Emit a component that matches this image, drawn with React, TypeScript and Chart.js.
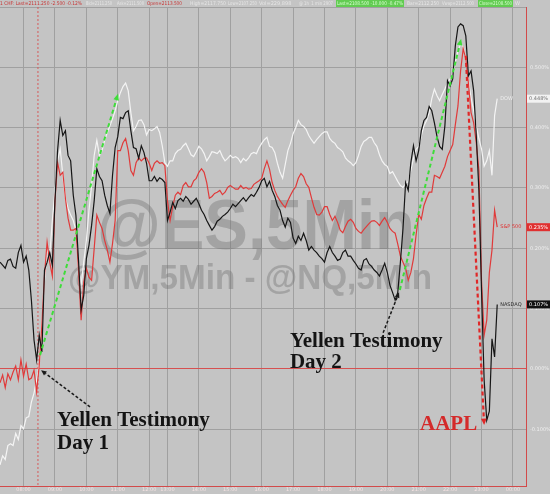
import React, { useEffect, useRef } from "react";
import { Chart, registerables } from "chart.js";

Chart.register(...registerables);

// 5-minute bars, % change
const nasdaq: number[] = [
  0.177, 0.172, 0.167, 0.180, 0.182, 0.170, 0.167, 0.193, 0.205, 0.177,
  0.187, 0.164, 0.114, 0.048, 0.015, 0.056, 0.028, 0.164, 0.177, 0.193,
  0.172, 0.279, 0.362, 0.412, 0.387, 0.395, 0.354, 0.345, 0.288, 0.255,
  0.180, 0.098, 0.122, 0.183, 0.205, 0.238, 0.279, 0.332, 0.319, 0.312,
  0.288, 0.271, 0.258, 0.321, 0.367, 0.385, 0.417, 0.415, 0.425, 0.428,
  0.395, 0.367, 0.365, 0.349, 0.370, 0.359, 0.341, 0.312, 0.312, 0.319,
  0.311, 0.317, 0.314, 0.309, 0.246, 0.260, 0.276, 0.266, 0.279, 0.283,
  0.278, 0.286, 0.281, 0.273, 0.278, 0.283, 0.274, 0.263, 0.256, 0.246,
  0.238, 0.230, 0.236, 0.245, 0.248, 0.253, 0.256, 0.260, 0.266, 0.273,
  0.269, 0.274, 0.279, 0.284, 0.278, 0.284, 0.289, 0.286, 0.293, 0.301,
  0.312, 0.316, 0.302, 0.311, 0.296, 0.286, 0.271, 0.263, 0.246, 0.235,
  0.250, 0.243, 0.217, 0.208, 0.220, 0.213, 0.225, 0.213, 0.197, 0.203,
  0.197, 0.193, 0.187, 0.183, 0.177, 0.193, 0.203, 0.193, 0.187, 0.180,
  0.182, 0.193, 0.197, 0.187, 0.187, 0.180, 0.174, 0.167, 0.164, 0.180,
  0.183, 0.174, 0.170, 0.164, 0.160, 0.154, 0.164, 0.175, 0.160, 0.139,
  0.127, 0.114, 0.127, 0.177, 0.233, 0.309, 0.296, 0.342, 0.370, 0.345,
  0.362, 0.395, 0.412, 0.417, 0.435, 0.428, 0.408, 0.385, 0.369, 0.364,
  0.403, 0.478, 0.469, 0.481, 0.536, 0.567, 0.572, 0.569, 0.552, 0.486,
  0.494, 0.461, 0.387, 0.296, 0.131, -0.018, -0.085, -0.070, 0.050, 0.020,
  0.107,
];

const sp500: number[] = [
  -0.023, -0.010, -0.031, -0.008, -0.018, -0.005, 0.005, -0.018, 0.015, -0.012,
  0.008, -0.018, -0.015, -0.002, -0.038, 0.007, 0.073, 0.155, 0.210, 0.177,
  0.154, 0.279, 0.342, 0.321, 0.326, 0.283, 0.250, 0.230, 0.230, 0.233,
  0.164, 0.081, 0.144, 0.167, 0.152, 0.147, 0.200, 0.255, 0.243, 0.233,
  0.213, 0.197, 0.177, 0.208, 0.246, 0.362, 0.362, 0.375, 0.382, 0.362,
  0.329, 0.321, 0.342, 0.350, 0.345, 0.349, 0.350, 0.341, 0.329, 0.341,
  0.345, 0.341, 0.342, 0.337, 0.279, 0.246, 0.269, 0.288, 0.293, 0.289,
  0.304, 0.309, 0.302, 0.302, 0.312, 0.316, 0.326, 0.332, 0.326, 0.309,
  0.283, 0.286, 0.291, 0.293, 0.296, 0.289, 0.293, 0.301, 0.304, 0.301,
  0.298, 0.298, 0.304, 0.299, 0.301, 0.298, 0.299, 0.306, 0.309, 0.312,
  0.316, 0.332, 0.345, 0.331, 0.309, 0.296, 0.286, 0.279, 0.273, 0.268,
  0.279, 0.288, 0.296, 0.302, 0.316, 0.324, 0.319, 0.307, 0.301, 0.284,
  0.268, 0.256, 0.255, 0.260, 0.269, 0.269, 0.256, 0.246, 0.253, 0.243,
  0.230, 0.226, 0.236, 0.245, 0.248, 0.243, 0.233, 0.228, 0.225, 0.231,
  0.236, 0.241, 0.245, 0.246, 0.243, 0.238, 0.245, 0.251, 0.243, 0.233,
  0.228, 0.225, 0.207, 0.187, 0.177, 0.167, 0.147, 0.160, 0.183, 0.222,
  0.256, 0.248, 0.271, 0.283, 0.293, 0.293, 0.321, 0.319, 0.316, 0.326,
  0.336, 0.352, 0.362, 0.372, 0.405, 0.436, 0.494, 0.531, 0.514, 0.474,
  0.425, 0.408, 0.375, 0.329, 0.147, 0.056, 0.081, 0.160, 0.197, 0.263,
  0.235,
];

const dow: number[] = [
  -0.159, -0.144, -0.150, -0.127, -0.124, -0.127, -0.107, -0.117, -0.094, -0.099,
  -0.081, -0.079, -0.055, -0.040, -0.018, 0.008, 0.073, 0.147, 0.197, 0.188,
  0.246, 0.296, 0.345, 0.365, 0.321, 0.283, 0.266, 0.255, 0.246, 0.230,
  0.164, 0.139, 0.177, 0.213, 0.263, 0.304, 0.354, 0.379, 0.354, 0.362,
  0.379, 0.392, 0.403, 0.415, 0.428, 0.445, 0.458, 0.468, 0.474, 0.461,
  0.425, 0.395, 0.402, 0.412, 0.413, 0.405, 0.388, 0.397, 0.395, 0.398,
  0.402, 0.392, 0.370, 0.342, 0.336, 0.345, 0.345, 0.357, 0.362, 0.364,
  0.370, 0.374, 0.365, 0.355, 0.352, 0.360, 0.369, 0.365, 0.357, 0.345,
  0.352, 0.360, 0.359, 0.357, 0.362, 0.352, 0.345, 0.349, 0.354, 0.350,
  0.352, 0.349, 0.342, 0.349, 0.345, 0.350, 0.357, 0.359, 0.357, 0.367,
  0.374, 0.380, 0.384, 0.369, 0.367, 0.359, 0.341, 0.326, 0.316, 0.339,
  0.362, 0.374, 0.390, 0.400, 0.412, 0.405, 0.402, 0.397, 0.387, 0.380,
  0.374, 0.380, 0.385, 0.390, 0.393, 0.393, 0.382, 0.377, 0.374, 0.367,
  0.364, 0.360, 0.350, 0.345, 0.342, 0.337, 0.342, 0.354, 0.369, 0.377,
  0.380, 0.384, 0.384, 0.375, 0.369, 0.355, 0.345, 0.339, 0.336, 0.324,
  0.327, 0.319, 0.311, 0.304, 0.301, 0.307, 0.311, 0.329, 0.349, 0.364,
  0.369, 0.387, 0.403, 0.412, 0.425, 0.448, 0.464, 0.453, 0.445, 0.455,
  0.464, 0.474, 0.481, 0.486, 0.509, 0.527, 0.539, 0.534, 0.514, 0.478,
  0.450, 0.428, 0.403, 0.382, 0.365, 0.336, 0.345, 0.362, 0.321, 0.420,
  0.448,
];

const seriesNames = ["NASDAQ", "S&P 500", "DOW"];
const seriesColors = ["#161616", "#e03a3a", "#f4f4f4"];

const barCount = 201;
const xTickBars = [9, 21, 33, 45, 57, 64, 76, 88, 100, 112, 124, 136, 148, 160, 172, 184, 196];
const xTickLabels = [
  "08:00", "09:00", "10:00", "11:00", "12:00", "13:00", "14:00", "15:00", "16:00",
  "17:00", "18:00", "19:00", "20:00", "21:00", "22:00", "23:00", "00:00",
];
const yTickValues = [-0.1, 0, 0.1, 0.2, 0.3, 0.4, 0.5, 0.6];
const yMin = -0.194;
const yMax = 0.6;
const sessionMarkBar = 14.5;

const watermark1 = "@ES,5Min";
const watermark2 = "@YM,5Min - @NQ,5Min";

const headerItems = [
  { t: "1 CHF: Last=2111.250 -2.500 -0.12%", c: "#c83434", x0: 0, x1: 82 },
  { t: "Bid=2111.250", c: "#e6e6e6", x0: 86, x1: 112 },
  { t: "Ask=2111.500", c: "#e6e6e6", x0: 117, x1: 144 },
  { t: "Open=2113.500", c: "#c83434", x0: 147, x1: 182 },
  { t: "High=2117.750", c: "#e6e6e6", x0: 190, x1: 226 },
  { t: "Low=2107.250", c: "#e6e6e6", x0: 228, x1: 257 },
  { t: "Vol=229,898", c: "#e6e6e6", x0: 259, x1: 296 },
  { t: "@ 1h  1 min 2907", c: "#e6e6e6", x0: 299, x1: 333 },
  { t: "Last=2108.500 -10.000 -0.47%", c: "#d8ffd0", bg: "#62cc52", x0: 337, x1: 403 },
  { t: "Bar=2112.250", c: "#e6e6e6", x0: 407, x1: 439 },
  { t: "Vwap=2112.500", c: "#e6e6e6", x0: 442, x1: 474 },
  { t: "Close=2108.500", c: "#d8ffd0", bg: "#62cc52", x0: 479, x1: 512 },
  { t: "W", c: "#e6e6e6", x0: 515, x1: 520 },
];

type Arrow = { from: [number, number]; to: [number, number]; color: string; width: number; dash: number[]; head: number };
const arrows: Arrow[] = [
  { from: [15.3, 0.023], to: [45.1, 0.456], color: "#3fdc3a", width: 2, dash: [4, 3], head: 7 },
  { from: [152.8, 0.131], to: [176.2, 0.547], color: "#3fdc3a", width: 2, dash: [4, 3], head: 7 },
  { from: [178.0, 0.519], to: [185.0, -0.093], color: "#e02828", width: 2.2, dash: [4, 3], head: 7 },
  { from: [34.4, -0.063], to: [15.7, -0.002], color: "#1a1a1a", width: 1.5, dash: [3, 2], head: 6 },
  { from: [146.4, 0.060], to: [152.5, 0.127], color: "#1a1a1a", width: 1.5, dash: [3, 2], head: 6 },
];

const notes = [
  { lines: ["Yellen Testimony", "Day 1"], at: [21.8, -0.094], color: "#141414", lh: 23 },
  { lines: ["Yellen Testimony", "Day 2"], at: [110.8, 0.036], color: "#141414", lh: 21 },
  { lines: ["AAPL"], at: [160.5, -0.101], color: "#d42a2a", lh: 21 },
];

const BG = "#c4c4c4";
const GRID = "#a0a0a0";
const AXIS_RED = "#d24a4a";

function drawArrow(ctx: CanvasRenderingContext2D, x1: number, y1: number, x2: number, y2: number, a: Arrow) {
  const ang = Math.atan2(y2 - y1, x2 - x1);
  const hx = x2 - Math.cos(ang) * a.head * 0.9;
  const hy = y2 - Math.sin(ang) * a.head * 0.9;
  ctx.save();
  ctx.strokeStyle = a.color;
  ctx.fillStyle = a.color;
  ctx.lineWidth = a.width;
  ctx.setLineDash(a.dash);
  ctx.beginPath();
  ctx.moveTo(x1, y1);
  ctx.lineTo(hx, hy);
  ctx.stroke();
  ctx.setLineDash([]);
  ctx.beginPath();
  ctx.moveTo(x2, y2);
  ctx.lineTo(x2 - Math.cos(ang - 0.42) * a.head, y2 - Math.sin(ang - 0.42) * a.head);
  ctx.lineTo(x2 - Math.cos(ang + 0.42) * a.head, y2 - Math.sin(ang + 0.42) * a.head);
  ctx.closePath();
  ctx.fill();
  ctx.restore();
}

const decorPlugin = {
  id: "decor",
  beforeDraw(chart: any) {
    const { ctx, width, height } = chart;
    ctx.save();
    ctx.fillStyle = BG;
    ctx.fillRect(0, 0, width, height);
    ctx.restore();
  },
  beforeDatasetsDraw(chart: any) {
    const { ctx, chartArea, scales } = chart;
    ctx.save();
    ctx.fillStyle = "rgba(110,110,110,0.38)";
    ctx.textBaseline = "alphabetic";
    ctx.font = 'bold 70px "Liberation Sans", Arial, sans-serif';
    ctx.fillText(watermark1, chartArea.left + 97, chartArea.top + 242, 318);
    ctx.font = 'bold 35px "Liberation Sans", Arial, sans-serif';
    ctx.fillText(watermark2, chartArea.left + 68, chartArea.top + 282, 364);
    // session marker
    const sx = scales.x.getPixelForValue(sessionMarkBar);
    ctx.strokeStyle = "#d65a5a";
    ctx.lineWidth = 1;
    ctx.setLineDash([2, 2]);
    ctx.beginPath();
    ctx.moveTo(sx, chartArea.top);
    ctx.lineTo(sx, chartArea.bottom);
    ctx.stroke();
    ctx.restore();
  },
  afterDatasetsDraw(chart: any) {
    const { ctx, scales, chartArea } = chart;
    const x = scales.x;
    const y = scales.y;
    arrows.forEach((a) => {
      drawArrow(ctx, x.getPixelForValue(a.from[0]), y.getPixelForValue(a.from[1]),
        x.getPixelForValue(a.to[0]), y.getPixelForValue(a.to[1]), a);
    });
    ctx.save();
    ctx.textBaseline = "alphabetic";
    notes.forEach((n) => {
      ctx.fillStyle = n.color;
      ctx.font = 'bold 21px "Liberation Serif", "Times New Roman", serif';
      const px = x.getPixelForValue(n.at[0]);
      const py = y.getPixelForValue(n.at[1]);
      n.lines.forEach((l, i) => ctx.fillText(l, px, py + i * n.lh));
    });
    // series end labels and value boxes
    const series = [nasdaq, sp500, dow];
    const boxFill = ["#111111", "#e03030", "#f2f2f2"];
    const boxText = ["#ffffff", "#ffffff", "#707070"];
    const nameColor = ["#2a2a2a", "#e03030", "#eeeeee"];
    ctx.font = '5px "DejaVu Sans", sans-serif';
    ctx.textBaseline = "middle";
    series.forEach((s, k) => {
      const last = s.length - 1;
      const px = x.getPixelForValue(last);
      const py = y.getPixelForValue(s[last]);
      ctx.fillStyle = nameColor[k];
      ctx.textAlign = "left";
      ctx.fillText(seriesNames[k], px + 3, py);
      ctx.fillStyle = boxFill[k];
      ctx.fillRect(chartArea.right + 1, py - 4, 23, 8);
      ctx.fillStyle = boxText[k];
      ctx.fillText(s[last].toFixed(3) + "%", chartArea.right + 3, py + 0.5, 20);
    });
    ctx.restore();
  },
  afterDraw(chart: any) {
    const { ctx } = chart;
    ctx.save();
    ctx.font = '5px "DejaVu Sans", sans-serif';
    ctx.textBaseline = "middle";
    headerItems.forEach((h) => {
      if (h.bg) {
        ctx.fillStyle = h.bg;
        ctx.fillRect(h.x0 - 1, 0, h.x1 - h.x0 + 2, 7);
      }
      ctx.fillStyle = h.c;
      ctx.fillText(h.t, h.x0, 3.5, h.x1 - h.x0);
    });
    ctx.restore();
  },
};

export default function App() {
  const ref = useRef<HTMLCanvasElement>(null);
  useEffect(() => {
    document.body.style.margin = "0";
    const toPts = (arr: number[]) => arr.map((v, i) => ({ x: i, y: v }));
    const chart = new Chart(ref.current as HTMLCanvasElement, {
      type: "line",
      data: {
        datasets: [
          { label: seriesNames[0], data: toPts(nasdaq), borderColor: seriesColors[0], order: 1 },
          { label: seriesNames[1], data: toPts(sp500), borderColor: seriesColors[1], order: 2 },
          { label: seriesNames[2], data: toPts(dow), borderColor: seriesColors[2], order: 3 },
        ],
      },
      options: {
        responsive: false,
        animation: false,
        devicePixelRatio: 1,
        layout: { padding: { top: 5, left: 0, right: 0, bottom: 0 } },
        elements: {
          point: { radius: 0 },
          line: { borderWidth: 1.2, tension: 0 },
        },
        plugins: { legend: { display: false }, tooltip: { enabled: false } },
        scales: {
          x: {
            type: "linear",
            min: 0,
            max: barCount,
            afterBuildTicks: (s: any) => {
              s.ticks = xTickBars.map((v) => ({ value: v }));
            },
            afterFit: (s: any) => {
              s.height = 8;
            },
            grid: { color: GRID, lineWidth: 1, drawTicks: false },
            border: { display: true, color: AXIS_RED, width: 1 },
            ticks: {
              autoSkip: false,
              maxRotation: 0,
              padding: 1,
              color: "#f4e2e2",
              font: { size: 5, family: '"DejaVu Sans", sans-serif' },
              callback: (_v: any, i: number) => xTickLabels[i],
            },
          },
          y: {
            type: "linear",
            position: "right",
            min: yMin,
            max: yMax,
            afterBuildTicks: (s: any) => {
              s.ticks = yTickValues.map((v) => ({ value: v }));
            },
            afterFit: (s: any) => {
              s.width = 24;
            },
            grid: {
              color: (c: any) => (c.tick && Math.abs(c.tick.value) < 1e-9 ? "#d65050" : GRID),
              lineWidth: 1,
              drawTicks: false,
            },
            border: { display: true, color: AXIS_RED, width: 1 },
            ticks: {
              padding: 4,
              color: "#eeeeee",
              font: { size: 5, family: '"DejaVu Sans", sans-serif' },
              callback: (v: any) => (v > 0.55 ? "" : Number(v).toFixed(3) + "%"),
            },
          },
        },
      },
      plugins: [decorPlugin],
    } as any);
    return () => chart.destroy();
  }, []);
  return <canvas ref={ref} width={550} height={494} style={{ display: "block", width: 550, height: 494 }} />;
}
